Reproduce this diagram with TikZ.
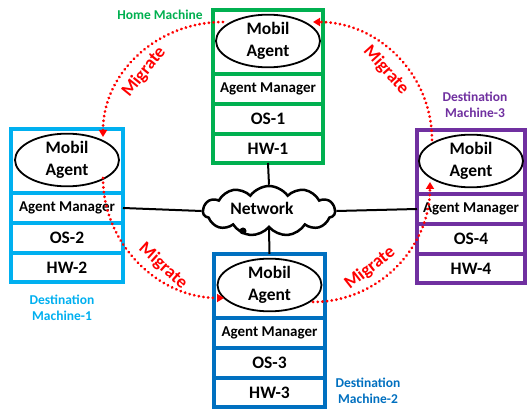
\documentclass[tikz,border=0pt]{standalone}
\usepackage{fontspec}
\setmainfont{Carlito}
\usetikzlibrary{shapes.geometric,shapes.symbols,arrows.meta}

\definecolor{homegreen}{HTML}{00B050}
\definecolor{skyblue}{HTML}{00B0F0}
\definecolor{deepblue}{HTML}{0070C0}
\definecolor{mpurple}{HTML}{7030A0}
\definecolor{migred}{HTML}{FF0000}

\newcommand\agentfont{\fontsize{17.5}{22}\selectfont\bfseries}
\newcommand\rowfont{\fontsize{17.5}{20}\selectfont\bfseries}
\newcommand\mgrfont{\fontsize{15}{18}\selectfont\bfseries}
\newcommand\lblfont{\fontsize{13.5}{16}\selectfont\bfseries}
\newcommand\migfont{\fontsize{18}{20}\selectfont\bfseries}

\tikzset{
  frame/.style={draw=#1, line width=4pt, fill=white, inner sep=0pt, outer sep=0pt},
  agent/.style={ellipse, draw=black, line width=1.8pt, minimum width=104pt,
    minimum height=46pt, inner sep=0pt, align=center, font=\agentfont},
  netline/.style={draw=black, line width=2pt},
  migrate/.style={draw=migred, line width=3pt, line cap=round,
    dash pattern=on 0.1pt off 4.6pt,
    -{Triangle[length=7pt, width=8pt, line cap=butt]}},
  miglabel/.style={text=migred, font=\migfont, inner sep=0pt},
  machlabel/.style={font=\lblfont, align=center, inner sep=0pt},
}

% one machine: #1 id, #2 centre x, #3 top y, #4 colour, #5 width, #6 number
\newcommand\machine[6]{%
  \node[frame=#4, minimum width=#5pt, minimum height=64pt, anchor=north] (#1p) at (#2,#3) {};
  \node[agent] (#1e) at ([yshift=1pt]#1p.center) {Mobil\\Agent};
  \node[frame=#4, minimum width=#5pt, minimum height=30pt, anchor=north, font=\mgrfont] (#1m) at (#1p.south) {Agent Manager};
  \node[frame=#4, minimum width=#5pt, minimum height=30pt, anchor=north, font=\rowfont] (#1o) at (#1m.south) {OS-#6};
  \node[frame=#4, minimum width=#5pt, minimum height=29pt, anchor=north, font=\rowfont] (#1h) at (#1o.south) {HW-#6};
}

\begin{document}
\begin{tikzpicture}[x=1pt, y=-1pt]
  \fill[white] (0,0) rectangle (528,414);
  \useasboundingbox (0,0) rectangle (528,414);

  % network cloud
  \node[cloud, draw=black, line width=2.5pt, fill=white, cloud puffs=11,
        cloud puff arc=110, aspect=2.6, minimum width=132pt, minimum height=50pt,
        inner sep=0pt] (net) at (269,211) {};
  \node[font=\rowfont] (nettxt) at (262,208) {Network};
  \node[circle, fill=black, inner sep=0pt, minimum size=7pt] (netdot) at (243,231) {};

  % the four machines
  \machine{ma}{268}{10}{homegreen}{110}{1}
  \machine{mb}{67}{129}{skyblue}{112}{2}
  \machine{mc}{269.5}{254}{deepblue}{111}{3}
  \machine{md}{471}{130}{mpurple}{108}{4}

  % network links
  \draw[netline] (mah.south) -- (net.north);
  \draw[netline] (net.south) -- (mcp.north);
  \draw[netline] (mbm.east) -- (net.west);
  \draw[netline] (net.east) -- (mdm.west);

  % machine captions
  \node[machlabel, text=homegreen] (lhome) at (160,15) {Home Machine};
  \node[machlabel, text=skyblue] (ldest1) at (62,308) {Destination\\Machine-1};
  \node[machlabel, text=deepblue] (ldest2) at (368,391) {Destination\\Machine-2};
  \node[machlabel, text=mpurple] (ldest3) at (475,105) {Destination\\Machine-3};

  % migration paths
  \coordinate (s1) at (223,22);   \coordinate (t1) at (103,137);
  \coordinate (s2) at (432,140);  \coordinate (t2) at (313,22);
  \coordinate (s3) at (103,178);  \coordinate (t3) at (224,298);
  \coordinate (s4) at (313,302);  \coordinate (t4) at (430,182);

  \draw[migrate] (s1) .. controls +(-66,0) and +(0,-64) .. (t1);
  \draw[migrate] (s2) .. controls +(0,-65) and +(66,0) .. (t2);
  \draw[migrate] (s3) .. controls +(0,66) and +(-66,0) .. (t3);
  \draw[migrate] (s4) .. controls +(65,0) and +(0,66) .. (t4);

  \node[miglabel, rotate=51] (g1) at (144,72) {Migrate};
  \node[miglabel, rotate=-48] (g2) at (386,70) {Migrate};
  \node[miglabel, rotate=-42] (g3) at (163,266) {Migrate};
  \node[miglabel, rotate=38] (g4) at (370,268) {Migrate};
\end{tikzpicture}
\end{document}
